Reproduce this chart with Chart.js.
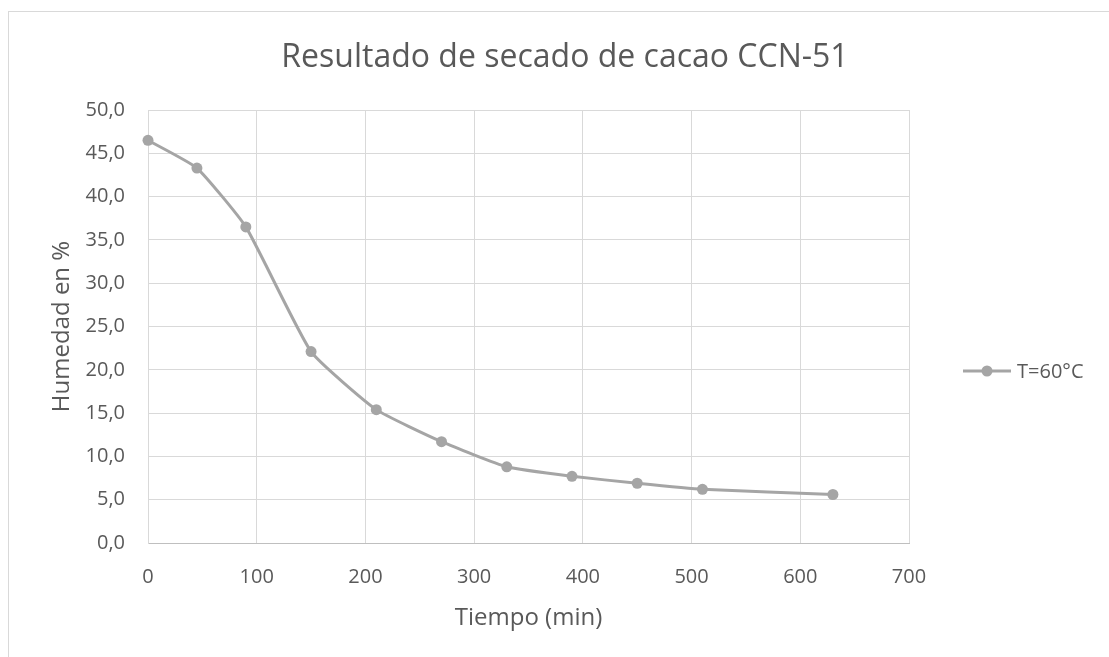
<!DOCTYPE html>
<html>
<head>
<meta charset="utf-8">
<script src="https://cdn.jsdelivr.net/npm/chart.js@4"></script>
<style>
  html, body { margin: 0; padding: 0; background: #fff; }
  #wrap { position: relative; width: 1109px; height: 657px; }
</style>
</head>
<body>
<div id="wrap"><canvas id="chart"></canvas></div>
<script>
// datos del secado
const tiempos = [0, 45, 90, 150, 210, 270, 330, 390, 450, 510, 630];
const humedad = [46.5, 43.3, 36.5, 22.1, 15.4, 11.7, 8.8, 7.7, 6.9, 6.2, 5.6];
const serie = 'T=60°C';
const titulo = 'Resultado de secado de cacao CCN-51';
const tituloX = 'Tiempo (min)';
const tituloY = 'Humedad en %';

const gris = '#A5A5A5';
const texto = '#595959';

// marco, titulo y leyenda dibujados a mano
const extras = {
    id: 'extras',
    beforeDraw(chart) {
        const c = chart.ctx;
        c.save();
        c.fillStyle = '#fff';
        c.fillRect(0, 0, chart.width, chart.height);
        c.strokeStyle = '#D9D9D9';
        c.lineWidth = 1;
        c.strokeRect(8.5, 11.5, chart.width + 20, chart.height + 20);
        c.restore();
    },
    afterDraw(chart) {
        const c = chart.ctx;
        const ds = chart.data.datasets[0];
        c.save();
        c.fillStyle = texto;
        c.font = '32px "Open Sans"';
        c.textAlign = 'center';
        c.textBaseline = 'alphabetic';
        c.fillText(titulo, 565, 67);

        // leyenda
        const y = 371;
        c.strokeStyle = ds.borderColor;
        c.lineWidth = 3;
        c.beginPath();
        c.moveTo(963, y);
        c.lineTo(1011, y);
        c.stroke();
        c.fillStyle = ds.pointBackgroundColor;
        c.beginPath();
        c.arc(987, y, 5.5, 0, Math.PI * 2);
        c.fill();
        c.fillStyle = texto;
        c.font = '20px "Open Sans"';
        c.textAlign = 'left';
        c.fillText(ds.label, 1017, y + 7);
        c.restore();
    }
};

function renderChart() {
    const ctx = document.getElementById('chart').getContext('2d');
    Chart.defaults.font.family = '"Open Sans"';
    Chart.defaults.color = texto;

    new Chart(ctx, {
        type: 'line',
        data: {
            datasets: [{
                label: serie,
                data: tiempos.map((t, i) => ({x: t, y: humedad[i]})),
                borderColor: gris,
                borderWidth: 3,
                pointBackgroundColor: gris,
                pointBorderWidth: 0,
                pointRadius: 5.5,
                tension: 0.15,
                clip: false
            }]
        },
        options: {
            responsive: true,
            maintainAspectRatio: false,
            animation: false,
            layout: {
                padding: {left: 0, right: 200, top: 110, bottom: 0}
            },
            plugins: {
                legend: {display: false},
                title: {display: false},
                tooltip: {enabled: false}
            },
            scales: {
                x: {
                    type: 'linear',
                    min: 0,
                    max: 700,
                    ticks: {stepSize: 100, padding: 22, font: {size: 20}, color: texto},
                    grid: {color: '#D9D9D9', drawTicks: false},
                    border: {color: '#BFBFBF', width: 1},
                    title: {
                        display: true,
                        text: tituloX,
                        font: {size: 24},
                        color: texto,
                        padding: {top: 0, bottom: 24}
                    },
                    afterFit(scale) { scale.height = 114; }
                },
                y: {
                    min: 0,
                    max: 50,
                    ticks: {
                        stepSize: 5,
                        padding: 23,
                        font: {size: 20},
                        color: texto,
                        callback: v => v.toFixed(1).replace('.', ',')
                    },
                    grid: {color: '#D9D9D9', drawTicks: false},
                    border: {color: '#D9D9D9', width: 1},
                    title: {
                        display: true,
                        text: tituloY,
                        font: {size: 24},
                        color: texto,
                        padding: {top: 48, bottom: 0}
                    },
                    afterFit(scale) { scale.width = 148; }
                }
            }
        },
        plugins: [extras]
    });
}

renderChart();
</script>
</body>
</html>
